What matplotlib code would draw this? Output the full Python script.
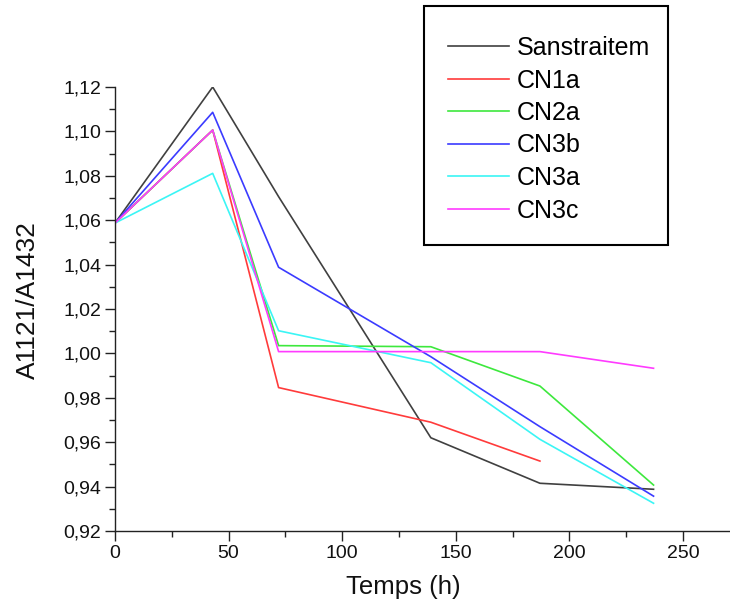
import matplotlib
matplotlib.use('Agg')
import matplotlib.pyplot as plt
from matplotlib.patches import Rectangle
from matplotlib.ticker import MultipleLocator, FuncFormatter

plt.rcParams['font.family'] = ['Liberation Sans', 'DejaVu Sans']

# Temps (h)
temps = [0, 43, 72, 139, 187, 237]
temps_cn1a = [0, 43, 72, 139, 187]

# A1121/A1432 per treatment
sanstraitem = [1.0587, 1.1200, 1.0706, 0.9620, 0.9415, 0.9388]
cn1a = [1.0587, 1.1006, 0.9846, 0.9690, 0.9515]
cn2a = [1.0587, 1.1006, 1.0035, 1.0030, 0.9853, 0.9407]
cn3b = [1.0587, 1.1086, 1.0388, 0.9985, 0.9670, 0.9357]
cn3a = [1.0587, 1.0811, 1.0102, 0.9958, 0.9613, 0.9325]
cn3c = [1.0587, 1.1006, 1.0008, 1.0008, 1.0008, 0.9933]

W, H = 730, 607
fig = plt.figure(figsize=(W / 100, H / 100), dpi=100)
ax = fig.add_axes([0.1575, 0.1252, 0.8405, 0.7315])

lw = 1.2
ax.plot(temps, sanstraitem, color='#404040', lw=lw, label='Sanstraitem')
ax.plot(temps_cn1a, cn1a, color='#ff3b3b', lw=lw, label='CN1a')
ax.plot(temps, cn2a, color='#3de83d', lw=lw, label='CN2a')
ax.plot(temps, cn3b, color='#3b3bff', lw=lw, label='CN3b')
ax.plot(temps, cn3a, color='#3bf5f5', lw=lw, label='CN3a')
ax.plot(temps, cn3c, color='#ff3bff', lw=lw, label='CN3c')

ax.set_xlim(0, 270)
ax.set_ylim(0.92, 1.12)

for s in ['top', 'right']:
    ax.spines[s].set_visible(False)
for s in ['left', 'bottom']:
    ax.spines[s].set_linewidth(1.0)
    ax.spines[s].set_color('#222222')

ax.xaxis.set_major_locator(MultipleLocator(50))
ax.xaxis.set_minor_locator(MultipleLocator(25))
ax.yaxis.set_major_locator(MultipleLocator(0.02))
ax.yaxis.set_minor_locator(MultipleLocator(0.01))
ax.yaxis.set_major_formatter(FuncFormatter(lambda v, p: f'{v:.2f}'.replace('.', ',')))

ax.tick_params(which='major', direction='out', length=7, width=1.0,
               labelsize=14, color='#222222', labelcolor='#111111', pad=3)
ax.tick_params(which='minor', direction='out', length=4, width=1.0, color='#222222')

ax.set_xlabel('Temps (h)', fontsize=18.5, color='#111111')
ax.set_ylabel('A1121/A1432', fontsize=19, color='#111111')
ax.xaxis.set_label_coords((404 - 115) / 615, -0.100)
ax.yaxis.set_label_coords(-0.122, 0.52)

# legend box drawn by hand (asymmetric padding as in the reference)
fig.patches.append(Rectangle((424 / W, 1 - 245 / H), 244 / W, 239 / H,
                             transform=fig.transFigure, fill=True, facecolor='white',
                             edgecolor='black', lw=1.5, zorder=5))
leg = fig.legend(loc='upper left', bbox_to_anchor=(418 / W, 1 - 6 / H),
                 fontsize=18, frameon=False,
                 handlelength=2.45, handletextpad=0.3, labelspacing=0.34,
                 borderpad=1.2, borderaxespad=0)
leg.set_zorder(6)

fig.savefig('out.png', dpi=100)
